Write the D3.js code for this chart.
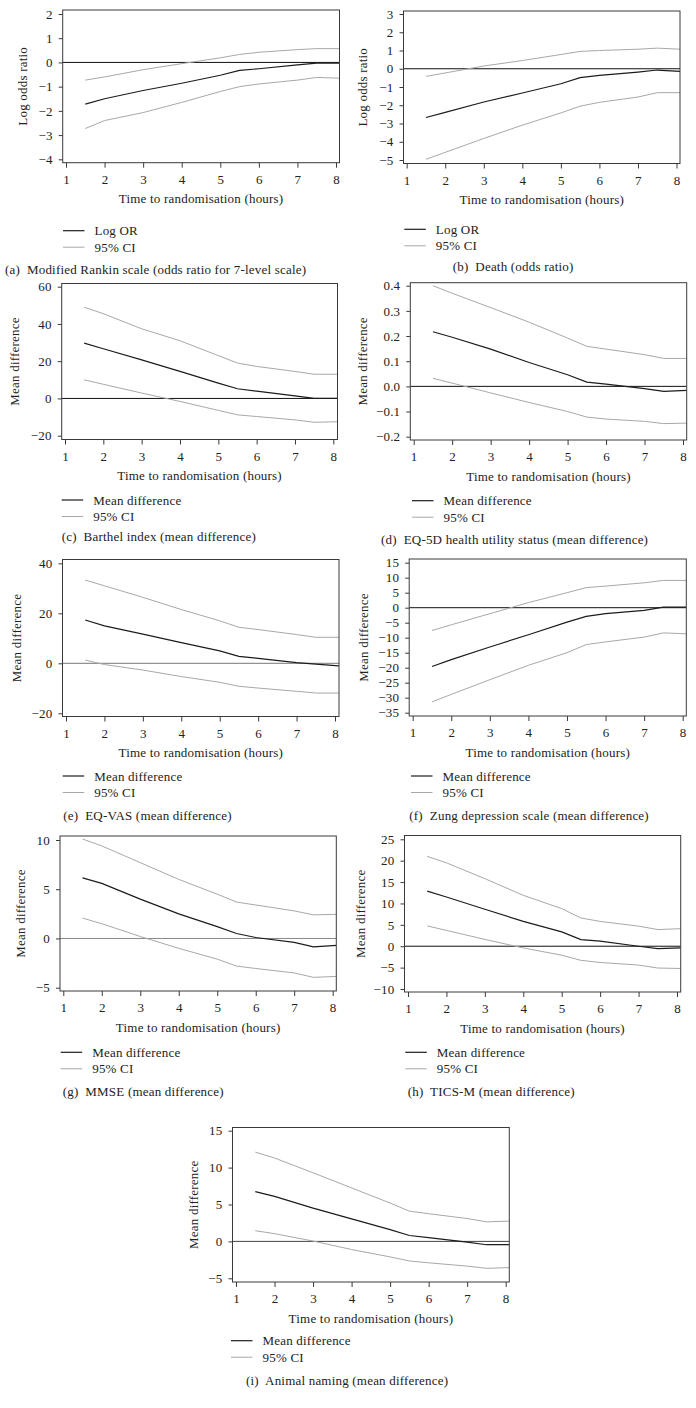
<!DOCTYPE html>
<html>
<head>
<meta charset="utf-8">
<script src="https://cdn.jsdelivr.net/npm/d3@7"></script>
<style>
  html, body { margin: 0; padding: 0; background: #fff; }
  svg text { font-family: "Liberation Serif", "DejaVu Serif", serif; fill: #222; letter-spacing: 0.2px; }
</style>
</head>
<body>
<svg id="chart" width="696" height="1408"></svg>
<script>
// ---------- DATA ----------
const timeHours = [1.5, 2, 3, 4, 5, 5.5, 6, 7, 7.5, 8.1];
const xTicks = [1, 2, 3, 4, 5, 6, 7, 8];

// (a) Modified Rankin scale
const aMean  = [-1.72, -1.50, -1.16, -0.86, -0.53, -0.33, -0.26, -0.10, -0.03, -0.03];
const aUpper = [-0.73, -0.60, -0.30, -0.05, 0.19, 0.33, 0.42, 0.53, 0.57, 0.57];
const aLower = [-2.73, -2.40, -2.07, -1.65, -1.20, -1.00, -0.89, -0.73, -0.62, -0.65];
const aTicks = [-4, -3, -2, -1, 0, 1, 2];

// (b) Death
const bMean  = [-2.67, -2.39, -1.82, -1.33, -0.82, -0.49, -0.36, -0.18, -0.07, -0.15];
const bUpper = [-0.42, -0.23, 0.15, 0.45, 0.78, 0.95, 1.00, 1.07, 1.13, 1.07];
const bLower = [-4.96, -4.58, -3.82, -3.09, -2.42, -2.05, -1.84, -1.55, -1.31, -1.31];
const bTicks = [-5, -4, -3, -2, -1, 0, 1, 2, 3];

// (c) Barthel index
const cMean  = [29.7, 26.7, 20.7, 14.5, 8.2, 5.2, 3.9, 1.4, 0.0, 0.0];
const cUpper = [49.0, 45.5, 37.4, 31.0, 23.0, 19.0, 17.2, 14.5, 13.0, 13.0];
const cLower = [10.0, 7.6, 2.9, -1.6, -6.4, -8.8, -9.7, -11.5, -12.8, -12.5];
const cTicks = [-20, 0, 20, 40, 60];

// (d) EQ-5D
const dMean  = [0.217, 0.195, 0.148, 0.095, 0.046, 0.017, 0.009, -0.009, -0.020, -0.016];
const dUpper = [0.400, 0.370, 0.313, 0.255, 0.192, 0.159, 0.148, 0.126, 0.111, 0.111];
const dLower = [0.032, 0.013, -0.026, -0.064, -0.100, -0.122, -0.130, -0.139, -0.148, -0.146];
const dTicks = [-0.2, -0.1, 0.0, 0.1, 0.2, 0.3, 0.4];

// (e) EQ-VAS
const eMean  = [17.3, 15.0, 11.7, 8.3, 5.0, 2.8, 2.0, 0.3, -0.3, -1.0];
const eUpper = [33.3, 31.0, 26.4, 21.5, 17.0, 14.4, 13.5, 11.5, 10.4, 10.4];
const eLower = [1.3, -0.5, -2.7, -5.3, -7.6, -9.2, -9.9, -11.2, -11.9, -11.9];
const eTicks = [-20, 0, 20, 40];

// (f) Zung depression scale
const fMean  = [-19.6, -17.3, -13.1, -9.0, -4.8, -2.9, -2.0, -0.9, 0.2, 0.2];
const fUpper = [-7.6, -5.7, -2.0, 1.7, 5.0, 6.7, 7.2, 8.3, 9.1, 9.1];
const fLower = [-31.4, -28.9, -24.0, -19.2, -15.0, -12.3, -11.4, -9.8, -8.4, -8.7];
const fTicks = [-35, -30, -25, -20, -15, -10, -5, 0, 5, 10, 15];

// (g) MMSE
const gMean  = [6.15, 5.6, 4.0, 2.5, 1.2, 0.5, 0.1, -0.4, -0.85, -0.7];
const gUpper = [10.1, 9.4, 7.7, 6.0, 4.5, 3.7, 3.4, 2.8, 2.4, 2.45];
const gLower = [2.07, 1.5, 0.2, -1.0, -2.1, -2.8, -3.05, -3.5, -3.95, -3.85];
const gTicks = [-5, 0, 5, 10];

// (h) TICS-M
const hMean  = [12.9, 11.5, 8.65, 5.8, 3.35, 1.56, 1.2, 0.0, -0.55, -0.4];
const hUpper = [21.0, 19.5, 15.8, 11.9, 8.8, 6.6, 5.8, 4.7, 3.9, 4.1];
const hLower = [4.75, 3.7, 1.6, -0.4, -2.1, -3.3, -3.8, -4.4, -5.1, -5.2];
const hTicks = [-10, -5, 0, 5, 10, 15, 20, 25];

// (i) Animal naming
const iMean  = [6.75, 6.1, 4.5, 3.05, 1.6, 0.8, 0.5, -0.1, -0.45, -0.45];
const iUpper = [12.1, 11.3, 9.3, 7.25, 5.2, 4.1, 3.75, 3.1, 2.65, 2.75];
const iLower = [1.45, 1.05, 0.05, -1.1, -2.1, -2.65, -2.9, -3.35, -3.65, -3.55];
const iTicks = [-5, 0, 5, 10, 15];

const xTitle = "Time to randomisation (hours)";
const ciLabel = "95% CI";

// ---------- LAYOUT ----------
const panels = [
  {mean:aMean, up:aUpper, lo:aLower, ticks:aTicks, fmt:"d", ylab:"Log odds ratio", leg:"Log OR",
   cap:"(a)  Modified Rankin scale (odds ratio for 7-level scale)",
   t1:66, t8:336, bl:62.7, br:339.5, bt:10, bb:162.7, yv:[-4,2], yp:[159.3,14],
   ylx:22.7, lgx:63, lgy:230.7, cpx:5, cpy:269.3, zc:"#111"},
  {mean:bMean, up:bUpper, lo:bLower, ticks:bTicks, fmt:"d", ylab:"Log odds ratio", leg:"Log OR",
   cap:"(b)  Death (odds ratio)",
   t1:406.7, t8:676.5, bl:403.5, br:680, bt:11, bb:163.5, yv:[-5,3], yp:[160,14],
   ylx:362.7, lgx:404.3, lgy:229.3, cpx:452.7, cpy:266.7, zc:"#111"},
  {mean:cMean, up:cUpper, lo:cLower, ticks:cTicks, fmt:"d", ylab:"Mean difference", leg:"Mean difference",
   cap:"(c)  Barthel index (mean difference)",
   t1:65, t8:333.3, bl:61.7, br:337.5, bt:283.5, bb:439.5, yv:[-20,60], yp:[435.7,286.7],
   ylx:14, lgx:61.7, lgy:500, cpx:61.7, cpy:536.7, zc:"#111"},
  {mean:dMean, up:dUpper, lo:dLower, ticks:dTicks, fmt:".1f", ylab:"Mean difference", leg:"Mean difference",
   cap:"(d)  EQ-5D health utility status (mean difference)",
   t1:413.7, t8:683, bl:410.3, br:686.7, bt:282.7, bb:440, yv:[-0.2,0.4], yp:[436.7,285.7],
   ylx:362, lgx:412, lgy:500.7, cpx:381, cpy:539.3, zc:"#111"},
  {mean:eMean, up:eUpper, lo:eLower, ticks:eTicks, fmt:"d", ylab:"Mean difference", leg:"Mean difference",
   cap:"(e)  EQ-VAS (mean difference)",
   t1:66, t8:335, bl:62.5, br:339, bt:559.5, bb:716.5, yv:[-20,40], yp:[713.3,563.3],
   ylx:16.7, lgx:62.7, lgy:776, cpx:63.3, cpy:815, zc:"#777"},
  {mean:fMean, up:fUpper, lo:fLower, ticks:fTicks, fmt:"d", ylab:"Mean difference", leg:"Mean difference",
   cap:"(f)  Zung depression scale (mean difference)",
   t1:412.7, t8:682.7, bl:409.2, br:686.3, bt:559, bb:716, yv:[-35,15], yp:[712.7,562.7],
   ylx:363.3, lgx:411, lgy:776, cpx:409.3, cpy:815, zc:"#111"},
  {mean:gMean, up:gUpper, lo:gLower, ticks:gTicks, fmt:"d", ylab:"Mean difference", leg:"Mean difference",
   cap:"(g)  MMSE (mean difference)",
   t1:63.3, t8:332.7, bl:60, br:336.3, bt:836, bb:991, yv:[-5,10], yp:[987.7,840],
   ylx:20, lgx:60.7, lgy:1052.3, cpx:62.7, cpy:1091, zc:"#888"},
  {mean:hMean, up:hUpper, lo:hLower, ticks:hTicks, fmt:"d", ylab:"Mean difference", leg:"Mean difference",
   cap:"(h)  TICS-M (mean difference)",
   t1:408, t8:677, bl:404.5, br:680.7, bt:835.5, bb:992, yv:[-10,25], yp:[989,839.3],
   ylx:360, lgx:405.3, lgy:1052.3, cpx:407.7, cpy:1091, zc:"#111"},
  {mean:iMean, up:iUpper, lo:iLower, ticks:iTicks, fmt:"d", ylab:"Mean difference", leg:"Mean difference",
   cap:"(i)  Animal naming (mean difference)",
   t1:236, t8:505.7, bl:232.5, br:509.3, bt:1127.5, bb:1282, yv:[-5,15], yp:[1278.3,1130.7],
   ylx:193.3, lgx:231, lgy:1340.7, cpx:246, cpy:1380, zc:"#444"}
];

const FS = 13;
const MEAN_COLOR = "#1c1c1c";
const CI_COLOR = "#a8a8a8";
const BOX_COLOR = "#3a3a3a";

const svg = d3.select("#chart");

panels.forEach((p, idx) => {
  const g = svg.append("g");
  const x = d3.scaleLinear().domain([1, 8]).range([p.t1, p.t8]);
  const y = d3.scaleLinear().domain(p.yv).range(p.yp);

  const clipId = "clip" + idx;
  svg.append("clipPath").attr("id", clipId)
    .append("rect").attr("x", p.bl).attr("y", p.bt)
    .attr("width", p.br - p.bl).attr("height", p.bb - p.bt);

  const plot = g.append("g").attr("clip-path", `url(#${clipId})`);

  // zero reference line
  plot.append("line")
    .attr("x1", p.bl).attr("x2", p.br)
    .attr("y1", y(0)).attr("y2", y(0))
    .attr("stroke", p.zc).attr("stroke-width", 1);

  const line = d3.line().x((d, i) => x(timeHours[i])).y(d => y(d));

  plot.append("path").datum(p.up).attr("d", line)
    .attr("fill", "none").attr("stroke", CI_COLOR).attr("stroke-width", 1);
  plot.append("path").datum(p.lo).attr("d", line)
    .attr("fill", "none").attr("stroke", CI_COLOR).attr("stroke-width", 1);
  plot.append("path").datum(p.mean).attr("d", line)
    .attr("fill", "none").attr("stroke", MEAN_COLOR).attr("stroke-width", 1.2);

  // box
  g.append("rect")
    .attr("x", p.bl).attr("y", p.bt)
    .attr("width", p.br - p.bl).attr("height", p.bb - p.bt)
    .attr("fill", "none").attr("stroke", BOX_COLOR).attr("stroke-width", 1);

  // x axis
  const xa = g.append("g").attr("transform", `translate(0,${p.bb})`)
    .call(d3.axisBottom(x).tickValues(xTicks).tickFormat(d3.format("d"))
      .tickSize(5).tickPadding(7));
  xa.select(".domain").remove();
  xa.selectAll("line").attr("stroke", BOX_COLOR);
  xa.selectAll("text").attr("font-size", FS).attr("font-family", null).attr("fill", "#222");

  // y axis
  const ya = g.append("g").attr("transform", `translate(${p.bl},0)`)
    .call(d3.axisLeft(y).tickValues(p.ticks).tickFormat(d3.format(p.fmt))
      .tickSize(4).tickPadding(6));
  ya.select(".domain").remove();
  ya.selectAll("line").attr("stroke", BOX_COLOR);
  ya.selectAll("text").attr("font-size", FS).attr("font-family", null).attr("fill", "#222");

  // x axis title
  g.append("text")
    .attr("x", (p.bl + p.br) / 2).attr("y", p.bb + 40.5)
    .attr("text-anchor", "middle").attr("font-size", FS)
    .text(xTitle);

  // y axis title
  g.append("text")
    .attr("transform", `translate(${p.ylx + 4.5},${(p.bt + p.bb) / 2}) rotate(-90)`)
    .attr("text-anchor", "middle").attr("font-size", FS)
    .text(p.ylab);

  // legend
  const legRows = [
    {label: p.leg, color: MEAN_COLOR, w: 1.2},
    {label: ciLabel, color: CI_COLOR, w: 1}
  ];
  legRows.forEach((r, k) => {
    const ly = p.lgy + k * 16.5;
    g.append("line")
      .attr("x1", p.lgx).attr("x2", p.lgx + 21.5)
      .attr("y1", ly).attr("y2", ly)
      .attr("stroke", r.color).attr("stroke-width", r.w);
    g.append("text")
      .attr("x", p.lgx + 31.5).attr("y", ly + 4.5)
      .attr("font-size", FS).text(r.label);
  });

  // caption
  g.append("text")
    .attr("x", p.cpx).attr("y", p.cpy + 4.5)
    .attr("font-size", FS)
    .style("white-space", "pre")
    .text(p.cap);
});
</script>
</body>
</html>
